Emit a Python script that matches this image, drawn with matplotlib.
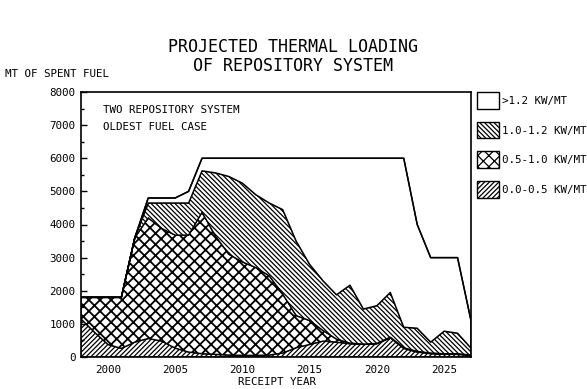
import matplotlib
matplotlib.use("Agg")
import matplotlib.pyplot as plt
from matplotlib.patches import Patch
import numpy as np

plt.rcParams['font.family'] = ['DejaVu Sans Mono']
plt.rcParams['hatch.linewidth'] = 0.9

years = list(range(1998, 2028))

# cumulative MT (top edge of each band)
top_00_05 = [1150, 750, 380, 260, 450, 560, 480, 270, 150, 100,
             80, 60, 50, 50, 60, 120, 280, 380, 480, 450,
             400, 380, 400, 580, 260, 150, 100, 80, 80, 50]
top_05_10 = [1800, 1800, 1800, 1800, 3600, 4200, 3880, 3680, 3680, 4370,
             3650, 3100, 2870, 2700, 2450, 1900, 1250, 1100, 800, 540,
             420, 390, 410, 600, 280, 170, 120, 100, 100, 60]
top_10_12 = [1800, 1800, 1800, 1800, 3600, 4650, 4650, 4650, 4650, 5620,
             5560, 5450, 5250, 4900, 4650, 4450, 3500, 2800, 2300, 1880,
             2170, 1450, 1550, 1950, 900, 870, 450, 780, 720, 270]
total = [1800, 1800, 1800, 1800, 3600, 4800, 4800, 4800, 5000, 6000,
         6000, 6000, 6000, 6000, 6000, 6000, 6000, 6000, 6000, 6000,
         6000, 6000, 6000, 6000, 6000, 4000, 3000, 3000, 3000, 1100]

labels = ['>1.2 KW/MT', '1.0-1.2 KW/MT', '0.5-1.0 KW/MT', '0.0-0.5 KW/MT']
hatches = ['', '\\' * 7, 'xxx', '/' * 7]
hatch_lw = [0.9, 0.9, 1.3, 0.9]

fig = plt.figure(figsize=(5.87, 3.89), dpi=100)
ax = fig.add_axes([81/587, 32/389, 390/587, 265/389])

x = np.array(years)
zero = np.zeros(len(x))
bounds = [zero, top_00_05, top_05_10, top_10_12, total]
for i in range(4):
    k = 3 - i
    plt.rcParams['hatch.linewidth'] = hatch_lw[k]
    ax.fill_between(x, bounds[i], bounds[i + 1], facecolor='white', edgecolor='black',
                    hatch=hatches[k], lw=1.0)
ax.plot(x, total, color='black', lw=1.1)

ax.set_xlim(1998, 2027)
ax.set_ylim(0, 8000)
ax.set_xticks([2000, 2005, 2010, 2015, 2020, 2025])
ax.set_xticklabels(['2000', '2005', '2010', '2015', '2020', '2025'], fontsize=7.8)
ax.set_yticks(range(0, 8001, 1000))
ax.set_yticks(range(0, 8001, 500), minor=True)
ax.tick_params(axis='y', direction='in', length=4, width=1, labelsize=7.8, pad=4)
ax.tick_params(axis='y', which='minor', direction='in', length=2.5, width=1)
ax.tick_params(axis='x', length=0, pad=6)
for s in ax.spines.values():
    s.set_linewidth(1.2)

fig.text(103/587, 1 - 110/389, 'TWO REPOSITORY SYSTEM', fontsize=7.8, va='center')
fig.text(103/587, 1 - 127/389, 'OLDEST FUEL CASE', fontsize=7.8, va='center')

fig.text(293/587, 1 - 47/389, 'PROJECTED THERMAL LOADING', fontsize=12, ha='center', va='center')
fig.text(293/587, 1 - 66/389, 'OF REPOSITORY SYSTEM', fontsize=12, ha='center', va='center')
fig.text(5/587, 1 - 74/389, 'MT OF SPENT FUEL', fontsize=7.8, va='center')
fig.text(277/587, 1 - 382/389, 'RECEIPT YEAR', fontsize=7.8, ha='center', va='center')

handles = []
for h, w in zip(hatches, hatch_lw):
    plt.rcParams['hatch.linewidth'] = w
    handles.append(Patch(facecolor='white', edgecolor='black', hatch=h, lw=1.0))
fig.legend(handles, labels, loc='upper left', bbox_to_anchor=(477/587, 1 - 92/389),
           frameon=False, fontsize=7.8, handlelength=2.0, handleheight=2.0,
           labelspacing=1.2, handletextpad=0.3, borderpad=0, borderaxespad=0)

fig.savefig('out.png', dpi=100)
